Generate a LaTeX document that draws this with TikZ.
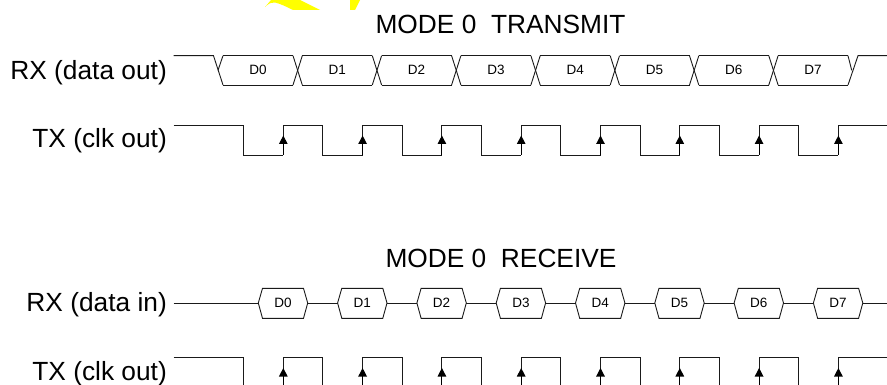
\documentclass[tikz,border=0pt]{standalone}
\usepackage{fontspec}
\setmainfont{Liberation Sans}
\usetikzlibrary{arrows.meta}
\definecolor{markYellow}{HTML}{FFFF00}
\definecolor{waveBlack}{HTML}{1A1A1A}
\newcommand{\risearrow}[3]{%
  \draw[clkarrow] (#1,#2) -- (#1,#3);
}
\begin{document}
\begin{tikzpicture}[x=1pt, y=-1pt, line join=miter,
  wave/.style={draw=waveBlack, line width=0.9pt},
  clkarrow/.style={draw=black, line width=1.1pt, -{Triangle[length=8.5pt, width=8.5pt]}},
  title/.style={font=\fontsize{26.3}{28}\selectfont, anchor=center, inner sep=0pt},
  sig/.style={font=\fontsize{26.3}{28}\selectfont, anchor=base east, inner sep=0pt},
  bit/.style={font=\fontsize{13.5}{15}\selectfont, anchor=center, inner sep=0pt}]
  \useasboundingbox (0,0) rectangle (887,385);

  % yellow scraps
  \fill[markYellow] (265,7) .. controls (269,3) and (272,2) .. (275,2.5) .. controls (281,4) and (287,7) .. (293,10) -- (320,10) -- (300,0) -- (271,0) -- cycle;
  \fill[markYellow] (350,10) -- (355,10) -- (360,0) -- (350,0) -- cycle;

  % titles
  \node[title] (txtitle) at (500.5,24.5) {MODE 0\ \ TRANSMIT};
  \node[title] (rxtitle) at (501,258) {MODE 0\ \ RECEIVE};

  % labels
  \node[sig] (rxout) at (167,79.3) {RX (data out)};
  \node[sig] (txout) at (167,147.3) {TX (clk out)};
  \node[sig] (rxin) at (167,311.7) {RX (data in)};
  \node[sig] (txin) at (167,380) {TX (clk out)};

  % transmit data
  \draw[wave] (173.5,55.7) -- (213.5,55.7) -- (223,85);
  \draw[wave] (223,55.7) -- (218,70.3);
  \foreach \n in {0,...,7} {
    \pgfmathsetmacro{\cx}{258+79.3*\n}
    \draw[wave] (\cx-35,85) -- (\cx+35,85);
    \draw[wave] (\cx-35,55.7) -- (\cx+35,55.7);
    \node[bit] (tx\n) at (\cx,70) {D\n};
  }
  \foreach \n in {0,...,6} {
    \pgfmathsetmacro{\cx}{258+79.3*\n}
    \draw[wave] (\cx+35,55.7) -- (\cx+44.3,85);
    \draw[wave] (\cx+35,85) -- (\cx+44.3,55.7);
  }
  \draw[wave] (848,55.7) -- (851.7,70.3);
  \draw[wave] (848,85) -- (858,55.7) -- (887,55.7);

  % transmit clock
  \draw[wave] (173.5,125) -- (243.3,125) -- (243.3,155) -- (283.3,155);
  \foreach \n in {0,...,6} {
    \pgfmathsetmacro{\rx}{283.3+79.3*\n}
    \draw[wave] (\rx,155) -- (\rx,125) -- (\rx+39.6,125) -- (\rx+39.6,155) -- (\rx+79.3,155);
  }
  \draw[wave] (838.4,155) -- (838.4,125) -- (887,125);
  \foreach \n in {0,...,7} {
    \pgfmathsetmacro{\rx}{283.3+79.3*\n}
    \risearrow{\rx}{155}{135.5}
  }

  % receive data
  \draw[wave] (173.5,303) -- (258.3,303);
  \foreach \n in {0,...,7} {
    \pgfmathsetmacro{\cx}{283+79.3*\n}
    \draw[wave] (\cx-24.7,303) -- (\cx-20.5,288.3) -- (\cx+20.5,288.3) -- (\cx+24.7,303) -- (\cx+20.5,318.3) -- (\cx-20.5,318.3) -- cycle;
    \node[bit] (rx\n) at (\cx,303) {D\n};
  }
  \foreach \n in {0,...,6} {
    \pgfmathsetmacro{\cx}{283+79.3*\n}
    \draw[wave] (\cx+24.7,303) -- (\cx+54.6,303);
  }
  \draw[wave] (862.7,303) -- (887,303);

  % receive clock
  \draw[wave] (173.5,357.7) -- (243.3,357.7) -- (243.3,385);
  \foreach \n in {0,...,6} {
    \pgfmathsetmacro{\rx}{283.3+79.3*\n}
    \draw[wave] (\rx,385) -- (\rx,357.7) -- (\rx+39.6,357.7) -- (\rx+39.6,385);
  }
  \draw[wave] (838.4,385) -- (838.4,357.7) -- (887,357.7);
  \foreach \n in {0,...,7} {
    \pgfmathsetmacro{\rx}{283.3+79.3*\n}
    \risearrow{\rx}{385}{368}
  }
\end{tikzpicture}
\end{document}
